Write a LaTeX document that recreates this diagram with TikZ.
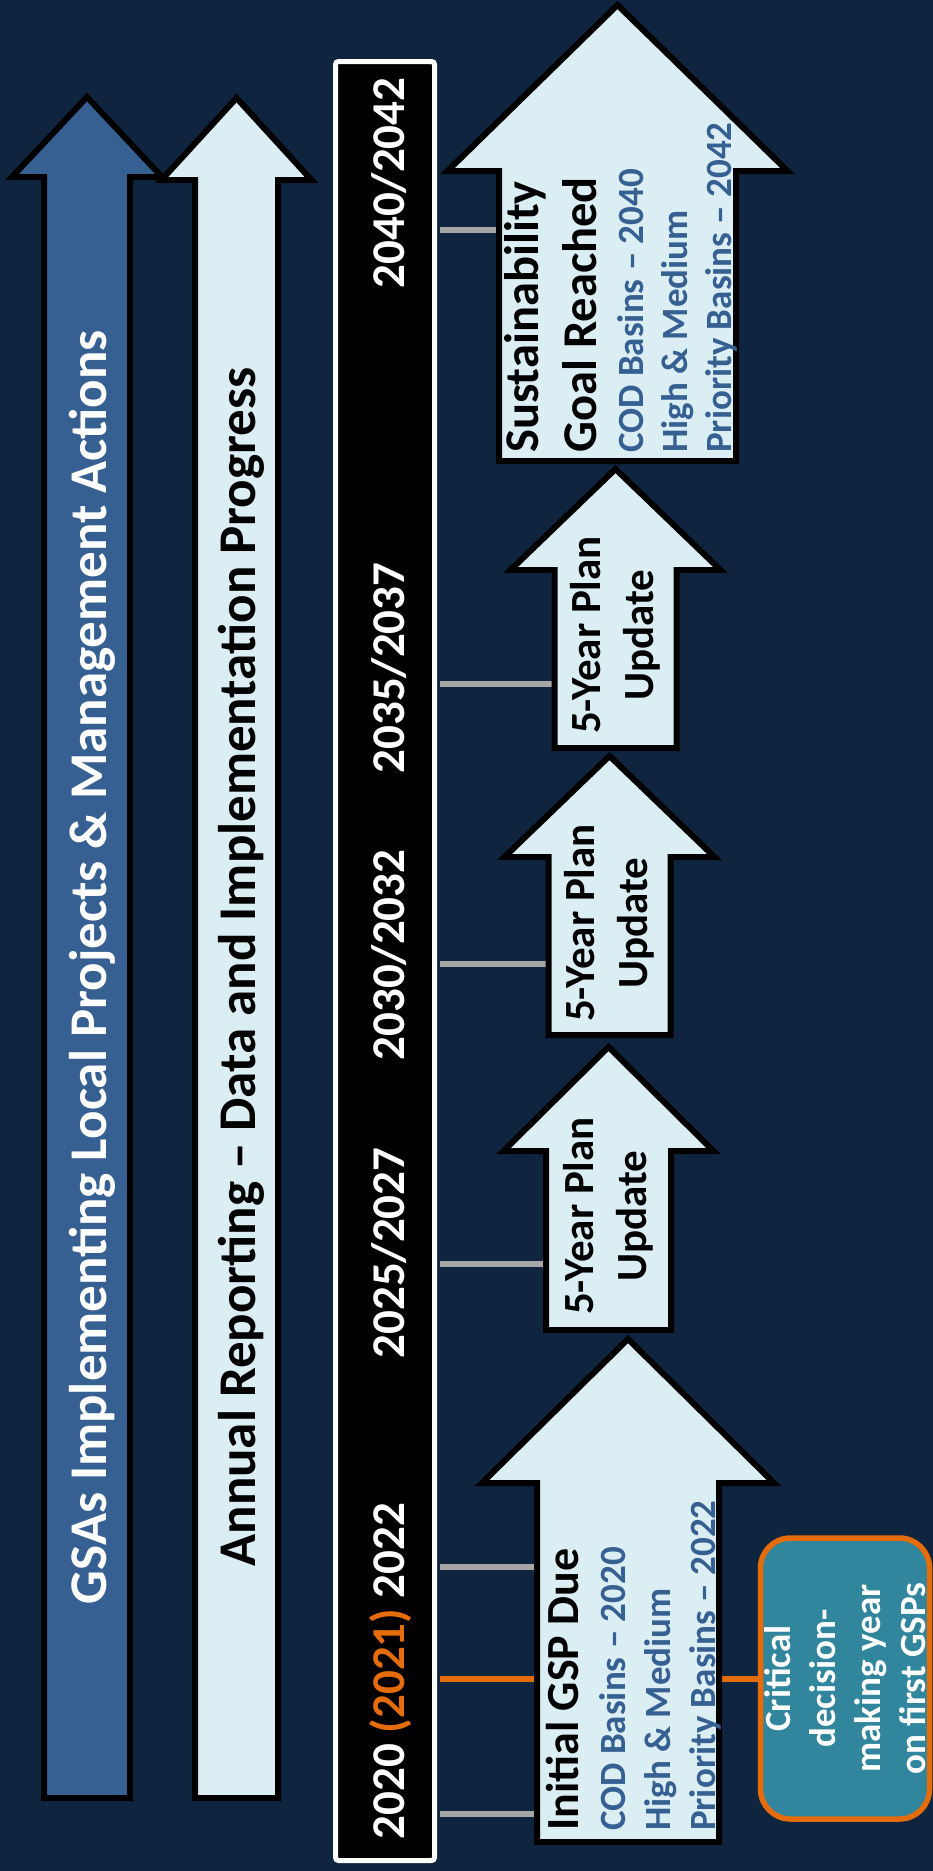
\documentclass[tikz,border=0pt]{standalone}
\usepackage{fontspec}
\setmainfont{Carlito}
\definecolor{bg}{HTML}{0F243E}
\definecolor{midblue}{HTML}{376092}
\definecolor{lightfill}{HTML}{DBEEF4}
\definecolor{tealc}{HTML}{31859C}
\definecolor{orangec}{HTML}{E46C0A}
\definecolor{tickgray}{HTML}{A6A6A6}
\tikzset{
  arrowshape/.style={draw=black, line width=6pt, line join=miter},
  yr/.style={text=white, font=\bfseries\fontsize{47}{56}\selectfont, rotate=90, anchor=base, inner sep=0pt},
  bigtxt/.style={font=\bfseries\fontsize{53}{64}\selectfont, rotate=90, anchor=base, inner sep=0pt},
  headtxt/.style={text=black, font=\bfseries\fontsize{46}{55}\selectfont, rotate=90, anchor=base west, inner sep=0pt},
  bighead/.style={headtxt, font=\bfseries\fontsize{48.5}{58}\selectfont},
  subtxt/.style={text=midblue, font=\bfseries\fontsize{37}{44}\selectfont, rotate=90, anchor=base west, inner sep=0pt},
  updtxt/.style={text=black, font=\bfseries\fontsize{43}{53}\selectfont, rotate=90, align=center, inner sep=0pt},
  tick/.style={draw=tickgray, line width=6pt, shorten <=2.5pt},
  otick/.style={draw=orangec, line width=6pt, shorten <=2.5pt},
}
\begin{document}
\begin{tikzpicture}[x=1pt, y=-1pt]
\fill[bg] (0,0) rectangle (933,1871);
\useasboundingbox (0,0) rectangle (933,1871);

% timeline bar
\node[draw=white, line width=5pt, fill=black, rounded corners=3pt, inner sep=0pt,
      minimum width=99pt, minimum height=1799pt] (bar) at (385,961) {};

% callout
\node[draw=orangec, line width=5.5pt, fill=tealc, rounded corners=30pt, rotate=90,
      minimum width=281pt, minimum height=169pt, inner sep=0pt, align=center, text=white,
      font=\bfseries\fontsize{37}{45}\selectfont] (crit) at (845,1678.5)
      {Critical\\decision-\\making year\\on first GSPs};

% tick coordinates on arrow bodies
\coordinate (tA1) at (537,1814);
\coordinate (tA2) at (537,1567);
\coordinate (tB) at (546,1264);
\coordinate (tC) at (548.5,964);
\coordinate (tD) at (554.5,684);
\coordinate (tE) at (499,230);
\draw[tick] (bar.east |- tA1) -- (tA1);
\draw[tick] (bar.east |- tA2) -- (tA2);
\draw[tick] (bar.east |- tB) -- (tB);
\draw[tick] (bar.east |- tC) -- (tC);
\draw[tick] (bar.east |- tD) -- (tD);
\draw[tick] (bar.east |- tE) -- (tE);
\draw[otick] (crit.north -| bar.east) -- (crit.north);

% year labels
\node[yr] (y2040) at (404,183) {2040/2042};
\node[yr] (y2035) at (404,668) {2035/2037};
\node[yr] (y2030) at (404,955) {2030/2032};
\node[yr] (y2025) at (404,1253) {2025/2027};
\node[yr] (y2020) at (404,1671) {2020 \textcolor{orangec}{(2021)} 2022};

% left arrows
\path[arrowshape, fill=midblue] (44,1798) -- (44,177) -- (12,177) -- (87,97) -- (162,177) -- (130,177) -- (130,1798) -- cycle;
\path[arrowshape, fill=lightfill] (195,1798) -- (195,180) -- (161.5,180) -- (236.5,98) -- (311.5,180) -- (278,180) -- (278,1798) -- cycle;
\node[bigtxt, text=white] (gsas) at (106,967) {GSAs Implementing Local Projects \& Management Actions};
\node[bigtxt, text=black] (annual) at (255,967) {Annual Reporting – Data and Implementation Progress};

% stacked arrows
\path[arrowshape, fill=lightfill] (537,1842) -- (537,1483) -- (482,1483) -- (628,1339) -- (774,1483) -- (719,1483) -- (719,1842) -- cycle;
\path[arrowshape, fill=lightfill] (546,1330) -- (546,1151) -- (503.5,1151) -- (608.5,1047) -- (713.5,1151) -- (671,1151) -- (671,1330) -- cycle;
\path[arrowshape, fill=lightfill] (548.5,1035) -- (548.5,857) -- (504.5,857) -- (609.5,756) -- (714.5,857) -- (670.5,857) -- (670.5,1035) -- cycle;
\path[arrowshape, fill=lightfill] (554.5,748) -- (554.5,570) -- (510.5,570) -- (615.5,469) -- (720.5,570) -- (676.5,570) -- (676.5,748) -- cycle;
\path[arrowshape, fill=lightfill] (499,461) -- (499,171) -- (447.5,171) -- (617.5,5) -- (787.5,171) -- (736,171) -- (736,461) -- cycle;

% texts in stacked arrows
\node[headtxt] (gspdue) at (578,1831) {Initial GSP Due};
\node[subtxt] (codA) at (625,1831) {COD Basins – 2020};
\node[subtxt] (hmA) at (670,1831) {High \& Medium};
\node[subtxt] (prA) at (715,1831) {Priority Basins – 2022};

\node[updtxt] (updB) at (608.5,1216) {5-Year Plan\\Update};
\node[updtxt] (updC) at (609.5,923) {5-Year Plan\\Update};
\node[updtxt] (updD) at (615.5,635) {5-Year Plan\\Update};

\node[bighead] (sust) at (538,453) {Sustainability};
\node[bighead] (goal) at (596,453) {Goal Reached};
\node[subtxt] (codE) at (643,453) {COD Basins – 2040};
\node[subtxt] (hmE) at (687,453) {High \& Medium};
\node[subtxt] (prE) at (731,453) {Priority Basins – 2042};
\end{tikzpicture}
\end{document}
